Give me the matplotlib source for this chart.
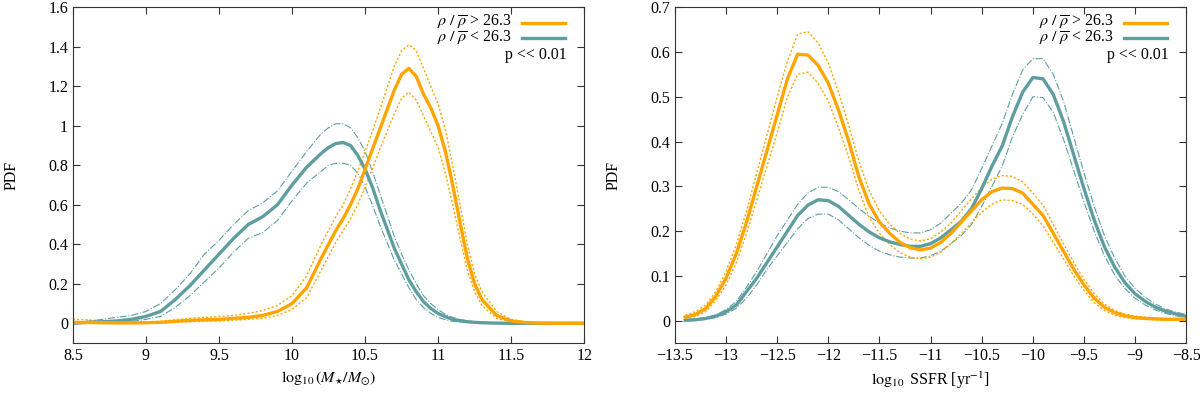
import numpy as np
import matplotlib
matplotlib.use('Agg')
import matplotlib.pyplot as plt

plt.rcParams['font.family'] = ['Liberation Serif', 'DejaVu Serif']
plt.rcParams['mathtext.fontset'] = 'stix'
plt.rcParams['font.size'] = 11.5

# Colores
naranja = '#FFA500'
verde = '#5F9EA0'

# ---- panel izquierdo: masa estelar ----
masa = [8.5, 8.6, 8.7, 8.8, 8.9, 9.0, 9.1, 9.2, 9.3, 9.4, 9.5, 9.6, 9.7, 9.8, 9.9,
        10.0, 10.1,
        10.2, 10.25, 10.3, 10.35, 10.4, 10.45, 10.5, 10.55, 10.6, 10.65, 10.7, 10.75,
        10.8, 10.85, 10.9, 10.95, 11.0, 11.05, 11.1, 11.15, 11.2, 11.25, 11.3,
        11.4, 11.5, 11.6, 11.7, 11.8, 11.9, 12.0]

masa_baja = [0.0, 0.005, 0.008, 0.012, 0.02, 0.035, 0.06, 0.12, 0.19, 0.27, 0.35, 0.43,
             0.50, 0.54, 0.60, 0.70, 0.79,
             0.86, 0.89, 0.91, 0.915, 0.90, 0.85, 0.78, 0.69, 0.58, 0.48, 0.38, 0.30,
             0.22, 0.16, 0.11, 0.075, 0.05, 0.033, 0.02, 0.013, 0.008, 0.005, 0.003,
             0.001, 0.0, 0.0, 0.0, 0.0, 0.0, 0.0]
masa_baja_sup = [0.0, 0.01, 0.02, 0.03, 0.04, 0.06, 0.10, 0.17, 0.25, 0.35, 0.42, 0.50,
                 0.57, 0.61, 0.67, 0.77, 0.87,
                 0.96, 0.99, 1.01, 1.01, 0.99, 0.94, 0.87, 0.77, 0.66, 0.55, 0.44, 0.35,
                 0.27, 0.20, 0.14, 0.10, 0.07, 0.045, 0.03, 0.02, 0.012, 0.008, 0.005,
                 0.002, 0.0, 0.0, 0.0, 0.0, 0.0, 0.0]
masa_baja_inf = [0.0, 0.002, 0.004, 0.006, 0.01, 0.02, 0.035, 0.08, 0.14, 0.21, 0.28, 0.36,
                 0.43, 0.46, 0.52, 0.62, 0.71,
                 0.77, 0.80, 0.81, 0.81, 0.80, 0.76, 0.69, 0.60, 0.50, 0.41, 0.32, 0.25,
                 0.18, 0.12, 0.08, 0.05, 0.03, 0.018, 0.01, 0.006, 0.004, 0.002, 0.001,
                 0.0, 0.0, 0.0, 0.0, 0.0, 0.0, 0.0]

masa_alta = [0.005, 0.004, 0.003, 0.002, 0.002, 0.003, 0.005, 0.01, 0.015, 0.018, 0.02,
             0.025, 0.03, 0.04, 0.06, 0.10, 0.18,
             0.33, 0.40, 0.47, 0.53, 0.60, 0.68, 0.78, 0.88, 0.98, 1.08, 1.18, 1.26,
             1.29, 1.25, 1.16, 1.09, 1.0, 0.87, 0.70, 0.51, 0.33, 0.20, 0.12,
             0.04, 0.012, 0.004, 0.001, 0.0, 0.0, 0.0]
masa_alta_sup = [0.02, 0.018, 0.012, 0.008, 0.006, 0.007, 0.01, 0.018, 0.025, 0.03, 0.035,
                 0.04, 0.05, 0.065, 0.09, 0.14, 0.24,
                 0.40, 0.47, 0.54, 0.60, 0.68, 0.77, 0.87, 0.97, 1.08, 1.19, 1.30, 1.38,
                 1.41, 1.38, 1.29, 1.20, 1.11, 0.98, 0.80, 0.60, 0.40, 0.25, 0.16,
                 0.06, 0.02, 0.007, 0.002, 0.0, 0.0, 0.0]
masa_alta_inf = [0.0, 0.0, 0.0, 0.0, 0.0, 0.0, 0.002, 0.005, 0.008, 0.01, 0.012, 0.015,
                 0.02, 0.025, 0.04, 0.07, 0.13,
                 0.27, 0.34, 0.41, 0.47, 0.53, 0.60, 0.69, 0.78, 0.88, 0.97, 1.06, 1.14,
                 1.17, 1.13, 1.05, 0.97, 0.89, 0.76, 0.60, 0.43, 0.27, 0.16, 0.09,
                 0.025, 0.006, 0.002, 0.0, 0.0, 0.0, 0.0]

# ---- panel derecho: SSFR ----
ssfr = [-13.4, -13.3, -13.2, -13.1, -13.0, -12.9, -12.8, -12.7, -12.6, -12.5, -12.4,
        -12.3, -12.2, -12.1, -12.0, -11.9, -11.8, -11.7, -11.6, -11.5, -11.4, -11.3,
        -11.2, -11.1, -11.0, -10.9, -10.8, -10.7, -10.6, -10.5, -10.4, -10.3, -10.2,
        -10.1, -10.0, -9.9, -9.8, -9.7, -9.6, -9.5, -9.4, -9.3, -9.2, -9.1, -9.0, -8.9,
        -8.8, -8.7, -8.6, -8.5]

ssfr_alta = [0.008, 0.014, 0.027, 0.055, 0.095, 0.15, 0.22, 0.30, 0.38, 0.46, 0.54,
             0.595, 0.593, 0.57, 0.53, 0.47, 0.40, 0.32, 0.26, 0.22, 0.195, 0.175,
             0.163, 0.158, 0.162, 0.175, 0.195, 0.22, 0.245, 0.27, 0.288, 0.296, 0.295,
             0.285, 0.26, 0.235, 0.195, 0.155, 0.115, 0.08, 0.05, 0.03, 0.018, 0.011,
             0.007, 0.005, 0.004, 0.003, 0.003, 0.003]
ssfr_alta_sup = [0.012, 0.02, 0.035, 0.065, 0.11, 0.17, 0.245, 0.33, 0.415, 0.50, 0.58,
                 0.64, 0.645, 0.62, 0.575, 0.51, 0.435, 0.355, 0.29, 0.245, 0.215, 0.195,
                 0.182, 0.178, 0.183, 0.198, 0.218, 0.245, 0.272, 0.298, 0.316, 0.324,
                 0.322, 0.31, 0.285, 0.258, 0.215, 0.172, 0.13, 0.092, 0.06, 0.037, 0.023,
                 0.015, 0.01, 0.008, 0.006, 0.005, 0.005, 0.005]
ssfr_alta_inf = [0.004, 0.009, 0.02, 0.045, 0.08, 0.13, 0.195, 0.27, 0.345, 0.42, 0.50,
                 0.55, 0.555, 0.53, 0.49, 0.43, 0.365, 0.29, 0.23, 0.195, 0.17, 0.152,
                 0.142, 0.138, 0.142, 0.153, 0.172, 0.195, 0.218, 0.242, 0.26, 0.27, 0.268,
                 0.26, 0.238, 0.212, 0.175, 0.138, 0.10, 0.068, 0.04, 0.023, 0.012, 0.007,
                 0.004, 0.003, 0.002, 0.001, 0.001, 0.001]

ssfr_baja = [0.001, 0.002, 0.005, 0.01, 0.02, 0.035, 0.065, 0.095, 0.13, 0.165, 0.20,
             0.235, 0.258, 0.27, 0.268, 0.255, 0.235, 0.215, 0.198, 0.185, 0.176, 0.17,
             0.166, 0.166, 0.172, 0.185, 0.203, 0.222, 0.25, 0.295, 0.345, 0.39, 0.455,
             0.51, 0.543, 0.54, 0.505, 0.445, 0.37, 0.295, 0.225, 0.165, 0.12, 0.085,
             0.06, 0.043, 0.03, 0.021, 0.015, 0.01]
ssfr_baja_sup = [0.002, 0.004, 0.007, 0.013, 0.025, 0.043, 0.075, 0.11, 0.15, 0.19, 0.225,
                 0.26, 0.285, 0.298, 0.298, 0.288, 0.27, 0.25, 0.233, 0.218, 0.207, 0.20,
                 0.196, 0.196, 0.203, 0.218, 0.24, 0.262, 0.292, 0.34, 0.39, 0.44, 0.505,
                 0.56, 0.585, 0.585, 0.55, 0.49, 0.41, 0.33, 0.255, 0.19, 0.14, 0.10,
                 0.072, 0.052, 0.037, 0.026, 0.019, 0.014]
ssfr_baja_inf = [0.0, 0.001, 0.003, 0.007, 0.015, 0.028, 0.05, 0.08, 0.115, 0.145, 0.175,
                 0.205, 0.228, 0.238, 0.238, 0.225, 0.205, 0.185, 0.168, 0.155, 0.147,
                 0.142, 0.14, 0.14, 0.145, 0.155, 0.172, 0.19, 0.215, 0.255, 0.30, 0.345,
                 0.41, 0.46, 0.50, 0.498, 0.465, 0.405, 0.335, 0.265, 0.20, 0.145, 0.102,
                 0.072, 0.05, 0.035, 0.024, 0.016, 0.011, 0.007]

etiqueta_alta = r'$\rho\ /\ \overline{\rho}$ > 26.3'
etiqueta_baja = r'$\rho\ /\ \overline{\rho}$ < 26.3'

fig = plt.figure(figsize=(12, 3.98), dpi=100)
ax1 = fig.add_axes([0.0608, 0.138, 0.426, 0.844])
ax2 = fig.add_axes([0.5625, 0.138, 0.426, 0.844])


def panel(ax, x, alta, alta_sup, alta_inf, baja, baja_sup, baja_inf):
    ax.plot(x, baja_sup, color=verde, lw=0.8, ls='-.')
    ax.plot(x, baja_inf, color=verde, lw=0.8, ls='-.')
    ax.plot(x, alta_sup, color=naranja, lw=1.0, ls=(0, (1.5, 1.5)))
    ax.plot(x, alta_inf, color=naranja, lw=1.0, ls=(0, (1.5, 1.5)))
    ax.plot(x, baja, color=verde, lw=2.4)
    ax.plot(x, alta, color=naranja, lw=2.4)
    # leyenda estilo gnuplot
    ax.text(0.859, 0.956, etiqueta_alta, transform=ax.transAxes, ha='right', va='center')
    ax.text(0.859, 0.908, etiqueta_baja, transform=ax.transAxes, ha='right', va='center')
    ax.plot([0.879, 0.963], [0.953, 0.953], color=naranja, lw=2.4, transform=ax.transAxes)
    ax.plot([0.879, 0.963], [0.907, 0.907], color=verde, lw=2.4, transform=ax.transAxes)
    ax.text(0.966, 0.858, 'p << 0.01', transform=ax.transAxes, ha='right', va='center')
    ax.set_ylabel('PDF')
    ax.tick_params(direction='in', top=True, right=True, length=5, width=0.8, color='#333333')
    for s in ax.spines.values():
        s.set_color('#333333')
        s.set_linewidth(0.8)


panel(ax1, masa, masa_alta, masa_alta_sup, masa_alta_inf,
      masa_baja, masa_baja_sup, masa_baja_inf)
ax1.set_xlim(8.5, 12)
ax1.set_ylim(-0.1, 1.6)
ax1.set_xticks([8.5, 9, 9.5, 10, 10.5, 11, 11.5, 12])
ax1.set_xticklabels(['8.5', '9', '9.5', '10', '10.5', '11', '11.5', '12'])
ax1.set_yticks([0, 0.2, 0.4, 0.6, 0.8, 1.0, 1.2, 1.4, 1.6])
ax1.set_yticklabels(['0', '0.2', '0.4', '0.6', '0.8', '1', '1.2', '1.4', '1.6'])
ax1.set_xlabel(r'$\log_{10}(M_{\star}/M_{\odot})$')
ax1.yaxis.set_label_coords(-0.104, 0.5)

panel(ax2, ssfr, ssfr_alta, ssfr_alta_sup, ssfr_alta_inf,
      ssfr_baja, ssfr_baja_sup, ssfr_baja_inf)
ax2.set_xlim(-13.5, -8.5)
ax2.set_ylim(-0.05, 0.7)
ax2.set_xticks([-13.5, -13, -12.5, -12, -11.5, -11, -10.5, -10, -9.5, -9, -8.5])
ax2.set_xticklabels(['\u221213.5', '\u221213', '\u221212.5', '\u221212', '\u221211.5',
                     '\u221211', '\u221210.5', '\u221210', '\u22129.5', '\u22129', '\u22128.5'])
ax2.set_yticks([0, 0.1, 0.2, 0.3, 0.4, 0.5, 0.6, 0.7])
ax2.set_yticklabels(['0', '0.1', '0.2', '0.3', '0.4', '0.5', '0.6', '0.7'])
ax2.set_xlabel(r'$\log_{10}$ SSFR [yr$^{-1}$]')
ax2.yaxis.set_label_coords(-0.104, 0.5)

plt.savefig('out.png', dpi=100)
